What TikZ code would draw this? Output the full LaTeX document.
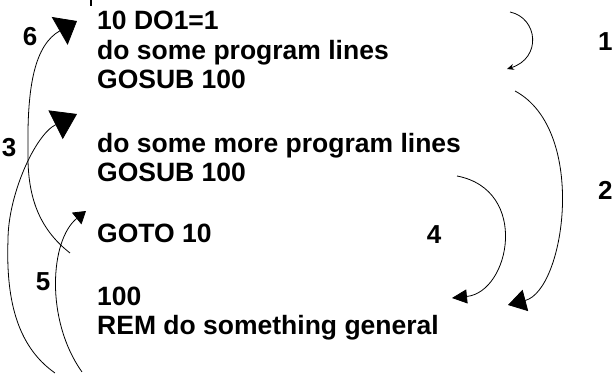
\documentclass[tikz,border=0pt]{standalone}
\usepackage{fontspec}
\setmainfont{Liberation Sans}
\usetikzlibrary{arrows.meta}
\begin{document}
\begin{tikzpicture}[x=1pt,y=-1pt,
  code/.style={anchor=base west, inner sep=0pt, font=\fontsize{26.5}{30}\selectfont\bfseries},
  num/.style={inner sep=0pt, font=\fontsize{26}{30}\selectfont\bfseries},
  flow/.style={draw, line width=0.8pt}]
\useasboundingbox (0,0) rectangle (614,374);
% program text
\node[code] (l1) at (97,30) {10 DO1=1};
\node[code] (l2) at (97,59.5) {do some program lines};
\node[code] (l3) at (97,88.5) {GOSUB 100};
\node[code] (l4) at (97,153) {do some more program lines};
\node[code] (l5) at (97,182) {GOSUB 100};
\node[code] (l6) at (97,243) {GOTO 10};
\node[code] (l7) at (97,306) {100};
\node[code] (l8) at (97,335) {REM do something general};
% step labels
\node[num] (n6) at (30,37) {6};
\node[num] (n3) at (9,148) {3};
\node[num] (n5) at (43,282) {5};
\node[num] (n4) at (434,235) {4};
\node[num,anchor=west] (n1) at (598,42) {1};
\node[num,anchor=west] (n2) at (598,190) {2};
% stray tick
\coordinate (t1) at (91,0);
\coordinate (t2) at (91,6);
\draw[line width=1.5pt] (t1) -- (t2);
% end points
\coordinate (a1s) at (510,12);  \coordinate (a1e) at (507,69);
\coordinate (a2s) at (515,91);  \coordinate (a2e) at (508,305);
\coordinate (a3s) at (55,373);  \coordinate (a3m) at (8,240);  \coordinate (a3e) at (77,114);
\coordinate (a4s) at (457,176); \coordinate (a4e) at (452,298);
\coordinate (a5s) at (82,372);  \coordinate (a5e) at (86,211);
\coordinate (a6s) at (70,253);  \coordinate (a6m) at (28,150); \coordinate (a6e) at (77,21);
% arrows
\draw[flow,-{Stealth[length=7pt,width=6pt]}] (a1s) .. controls (538,18) and (542,58) .. (a1e);
\draw[flow,-{Triangle[length=18pt,width=22pt]}] (a2s) .. controls (588,130) and (565,290) .. (a2e);
\draw[flow,-{Triangle[length=24pt,width=32pt]}] (a3s) .. controls (15,345) and (6,295) .. (a3m) .. controls (8,195) and (35,135) .. (a3e);
\draw[flow,-{Triangle[length=15pt,width=14pt]}] (a4s) .. controls (530,190) and (510,292) .. (a4e);
\draw[flow,-{Triangle[length=12pt,width=15pt]}] (a5s) .. controls (45,320) and (50,240) .. (a5e);
\draw[flow,-{Triangle[length=20pt,width=32pt]}] (a6s) .. controls (38,228) and (27,195) .. (a6m) .. controls (27,85) and (35,45) .. (a6e);
\end{tikzpicture}
\end{document}
